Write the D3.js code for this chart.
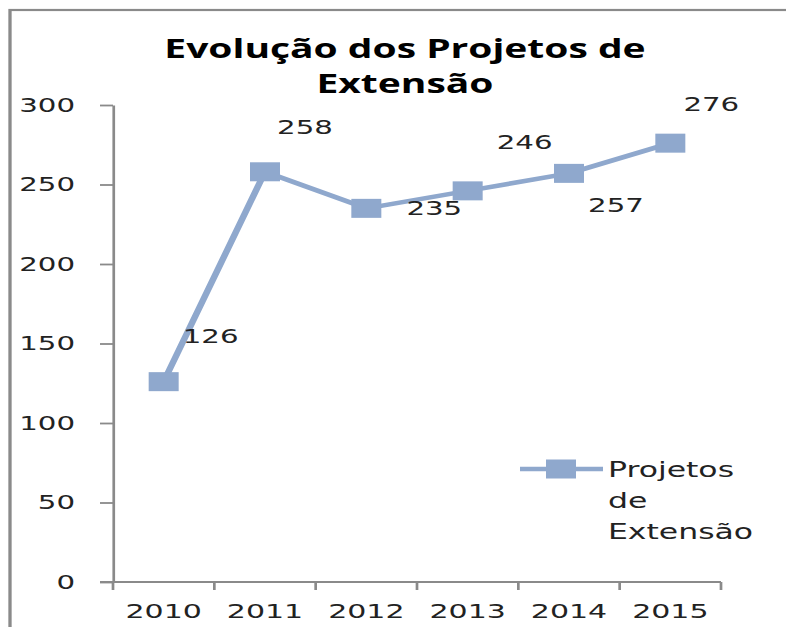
<!DOCTYPE html>
<html>
<head>
<meta charset="utf-8">
<script src="https://cdn.jsdelivr.net/npm/d3@7"></script>
<style>
  html, body { margin: 0; padding: 0; background: #fff; }
  svg { display: block; }
</style>
</head>
<body>
<div id="container"></div>
<script>
/* DATA */
const years = ["2010", "2011", "2012", "2013", "2014", "2015"];
const projetos = [126, 258, 235, 246, 257, 276];
const yTicks = [0, 50, 100, 150, 200, 250, 300];
const seriesName = ["Projetos", "de", "Extensão"];
const titleLines = ["Evolução dos Projetos de", "Extensão"];
// where each value label sits relative to its marker (screen px)
const labelOffsets = [[47, -46], [40, -45], [68, 0], [57, -49], [47, 32], [41, -39]];

/* CONSTANTS */
const width = 786,
  height = 627,
  sx = 1.5, // the picture is stretched sideways, so draw in a narrower box
  vw = width / sx;

const blue = "#8fa8cd",
  axisGray = "#8a8a8a",
  ink = "#222";

const svg = d3.select("#container")
  .append("svg")
  .attr("width", width)
  .attr("height", height)
  .attr("viewBox", [0, 0, vw, height])
  .attr("preserveAspectRatio", "none")
  .attr("font-family", "'DejaVu Sans', sans-serif");

// outer frame (right and bottom are cut off)
svg.append("rect")
  .attr("x", 10 / sx)
  .attr("y", 10)
  .attr("width", vw + 20)
  .attr("height", height + 20)
  .attr("fill", "none")
  .attr("stroke", axisGray)
  .attr("stroke-width", 2.2);

const x = d3.scaleBand()
  .domain(years)
  .range([113 / sx, 721 / sx]);

const y = d3.scaleLinear()
  .domain([0, 300])
  .range([582, 105]);

// title
svg.append("g")
  .selectAll("text")
  .data(titleLines)
  .join("text")
  .attr("x", 405 / sx)
  .attr("y", (d, i) => 58 + i * 35)
  .attr("text-anchor", "middle")
  .attr("font-family", "'Open Sans', sans-serif")
  .attr("font-weight", "bold")
  .attr("font-size", 26)
  .attr("fill", "#000")
  .text(d => d);

// y axis
const yAxis = svg.append("g")
  .attr("transform", `translate(${x.range()[0]},0)`)
  .call(d3.axisLeft(y).tickValues(yTicks).tickSize(13 / sx).tickPadding(25 / sx).tickSizeOuter(0));
yAxis.select(".domain").attr("stroke", axisGray).attr("stroke-width", 1.8);
yAxis.selectAll(".tick line").attr("stroke", axisGray).attr("stroke-width", 1.8);
yAxis.selectAll(".tick text")
  .attr("font-family", "'DejaVu Sans', sans-serif")
  .attr("font-size", 19.5)
  .attr("fill", ink);

// x axis: line, ticks at band edges, labels at band centres
const xg = svg.append("g");
xg.append("line")
  .attr("x1", x.range()[0] - 13 / sx)
  .attr("x2", x.range()[1])
  .attr("y1", y(0))
  .attr("y2", y(0))
  .attr("stroke", axisGray)
  .attr("stroke-width", 1.8);
xg.selectAll("line.edge")
  .data(years.map(d => x(d)).concat([x.range()[1]]))
  .join("line")
  .attr("class", "edge")
  .attr("x1", d => d)
  .attr("x2", d => d)
  .attr("y1", y(0))
  .attr("y2", y(0) + 8)
  .attr("stroke", axisGray)
  .attr("stroke-width", 1.8);
xg.selectAll("text")
  .data(years)
  .join("text")
  .attr("x", d => x(d) + x.bandwidth() / 2)
  .attr("y", 618)
  .attr("text-anchor", "middle")
  .attr("font-size", 20)
  .attr("fill", ink)
  .text(d => d);

// series line and markers
const cx = (d, i) => x(years[i]) + x.bandwidth() / 2;

svg.append("path")
  .datum(projetos)
  .attr("fill", "none")
  .attr("stroke", blue)
  .attr("stroke-width", 4.5)
  .attr("stroke-linejoin", "round")
  .attr("d", d3.line().x(cx).y(d => y(d)));

svg.append("g")
  .selectAll("rect")
  .data(projetos)
  .join("rect")
  .attr("x", (d, i) => cx(d, i) - 10)
  .attr("y", d => y(d) - 9.5)
  .attr("width", 20)
  .attr("height", 19)
  .attr("fill", blue);

svg.append("g")
  .selectAll("text")
  .data(projetos)
  .join("text")
  .attr("x", (d, i) => cx(d, i) + labelOffsets[i][0] / sx)
  .attr("y", (d, i) => y(d) + labelOffsets[i][1])
  .attr("dy", "0.36em")
  .attr("text-anchor", "middle")
  .attr("font-size", 19.5)
  .attr("fill", ink)
  .text(d => d);

// legend
const legend = svg.append("g");
legend.append("line")
  .attr("x1", 520 / sx)
  .attr("x2", 603 / sx)
  .attr("y1", 469)
  .attr("y2", 469)
  .attr("stroke", blue)
  .attr("stroke-width", 4.5);
legend.append("rect")
  .attr("x", 561 / sx - 10)
  .attr("y", 469 - 9.5)
  .attr("width", 20)
  .attr("height", 19)
  .attr("fill", blue);
legend.selectAll("text")
  .data(seriesName)
  .join("text")
  .attr("x", 608 / sx)
  .attr("y", (d, i) => 469 + i * 31)
  .attr("dy", "0.36em")
  .attr("font-size", 21)
  .attr("fill", ink)
  .text(d => d);
</script>
</body>
</html>
